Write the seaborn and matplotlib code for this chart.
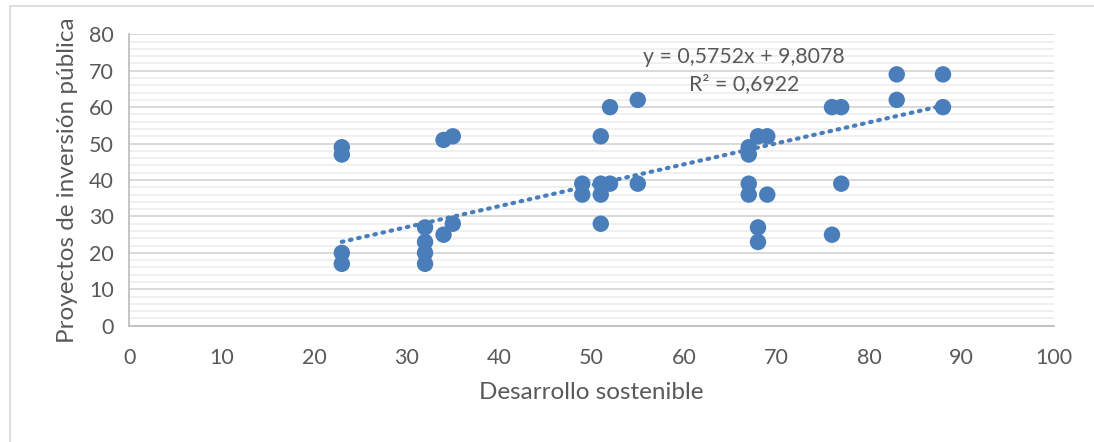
import numpy as np
import pandas as pd
import seaborn as sns
import matplotlib.pyplot as plt
from matplotlib.ticker import MultipleLocator

# Datos
desarrollo = [23, 23, 23, 23, 32, 32, 32, 32, 34, 34, 35, 35,
              49, 49, 51, 51, 51, 51, 52, 52, 55, 55,
              67, 67, 67, 67, 68, 68, 68, 69, 69,
              76, 76, 77, 77, 83, 83, 88, 88]
proyectos = [49, 47, 20, 17, 27, 23, 20, 17, 51, 25, 52, 28,
             39, 36, 52, 39, 36, 28, 60, 39, 62, 39,
             49, 47, 39, 36, 52, 27, 23, 52, 36,
             60, 25, 60, 39, 69, 62, 69, 60]
pendiente = 0.5752
intercepto = 9.8078
r2 = 0.6922

df = pd.DataFrame({'Desarrollo sostenible': desarrollo,
                   'Proyectos de inversión pública': proyectos})

sns.set_style('white')
plt.rcParams['font.family'] = ['Lato', 'DejaVu Sans']

azul = '#4A7EBB'
gris = '#595959'

fig = plt.figure(figsize=(10.94, 4.42), dpi=100)
ax = fig.add_axes([0.118, 0.263, 0.8454, 0.6594])

# linea de tendencia
xt = np.array([min(desarrollo), max(desarrollo)])
ax.plot(xt, pendiente * xt + intercepto, color=azul, linestyle=(0, (0.4, 1.6)),
        linewidth=3, dash_capstyle='round', zorder=2)

sns.scatterplot(data=df, x='Desarrollo sostenible', y='Proyectos de inversión pública',
                color=azul, s=140, edgecolor='none', ax=ax, zorder=3)

ax.set_xlim(0, 100)
ax.set_ylim(0, 80)
ax.xaxis.set_major_locator(MultipleLocator(10))
ax.yaxis.set_major_locator(MultipleLocator(10))
ax.yaxis.set_minor_locator(MultipleLocator(2))
ax.grid(False)
ax.grid(axis='y', which='major', color='#D9D9D9', linewidth=1.4, zorder=0)
ax.grid(axis='y', which='minor', color='#F0F0F0', linewidth=1.4, zorder=0)
ax.set_axisbelow(True)

for s in ['top', 'right']:
    ax.spines[s].set_visible(False)
for s in ['left', 'bottom']:
    ax.spines[s].set_color('#BFBFBF')
    ax.spines[s].set_linewidth(1.3)

ax.tick_params(axis='both', which='major', length=6, width=1.3, color='#BFBFBF',
               labelcolor=gris, labelsize=15.5, direction='out')
ax.tick_params(axis='y', which='minor', length=0)
ax.tick_params(axis='x', pad=10)
ax.tick_params(axis='y', pad=5)

ax.set_xlabel('Desarrollo sostenible', fontsize=17.5, color=gris, labelpad=10)
ax.set_ylabel('Proyectos de inversión pública', fontsize=17.5, color=gris, labelpad=8)

ax.text(66.5, 73.8, f'y = {pendiente:.4f}x + {intercepto:.4f}'.replace('.', ','),
        ha='center', va='center', fontsize=15.3, color=gris)
ax.text(66.5, 66.4, f'R² = {r2:.4f}'.replace('.', ','),
        ha='center', va='center', fontsize=15.3, color=gris)

# borde del area del grafico
fig.add_artist(plt.Line2D([10 / 1094, 10 / 1094], [0, 1 - 6 / 442],
                          color='#D9D9D9', linewidth=1.2))
fig.add_artist(plt.Line2D([10 / 1094, 1], [1 - 6 / 442, 1 - 6 / 442],
                          color='#D9D9D9', linewidth=1.2))

fig.savefig('out.png', dpi=100)
